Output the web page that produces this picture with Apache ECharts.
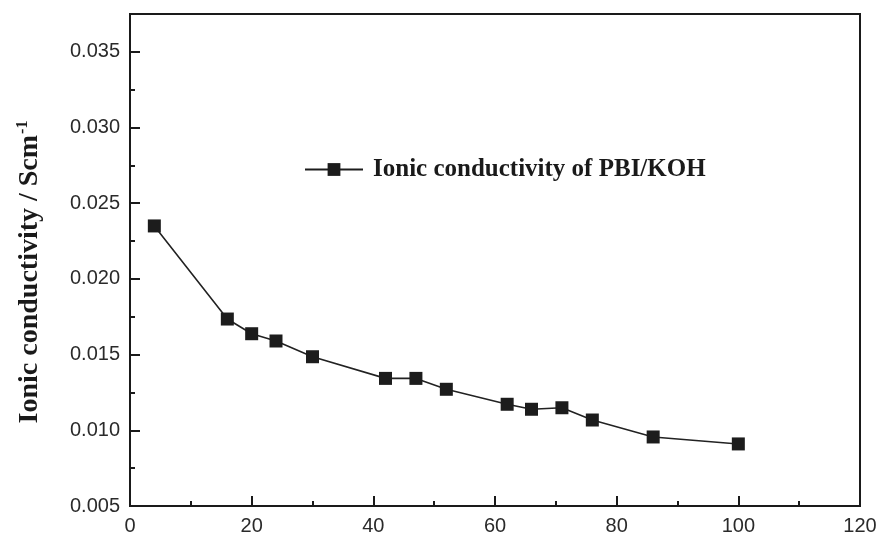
<!DOCTYPE html>
<html>
<head>
<meta charset="utf-8">
<script src="https://cdn.jsdelivr.net/npm/echarts@6/dist/echarts.min.js"></script>
<style>
  html, body { margin: 0; padding: 0; background: #fff; }
  #chart { width: 883px; height: 538px; }
</style>
</head>
<body>
<div id="chart"></div>
<script>
// Ionic conductivity of PBI/KOH membrane
const xValues = [4, 16, 20, 24, 30, 42, 47, 52, 62, 66, 71, 76, 86, 100];
const conductivity = [0.0235, 0.01735, 0.01638, 0.0159, 0.01486, 0.01343, 0.01343, 0.01271, 0.01172, 0.01139, 0.01149, 0.01068, 0.00956, 0.0091];
const seriesName = 'Ionic conductivity of PBI/KOH';

const points = xValues.map((x, i) => [x, conductivity[i]]);

const chart = echarts.init(document.getElementById('chart'));
const labelFont = { fontFamily: 'Liberation Sans, Arial, sans-serif', fontSize: 20, color: '#2a2a2a' };
const axisLine = { show: true, lineStyle: { color: '#1a1a1a', width: 2 } };
const serif = 'Liberation Serif, Times New Roman, serif';

chart.setOption({
  animation: false,
  backgroundColor: '#ffffff',
  grid: {
    left: 130, right: 23, top: 14, bottom: 32,
    show: true, borderColor: '#1a1a1a', borderWidth: 2
  },
  legend: {
    left: 299, top: 152,
    itemWidth: 58, itemHeight: 16,
    itemGap: 0,
    itemStyle: { borderWidth: 0, color: '#1c1c1c' },
    lineStyle: { width: 2, color: '#1c1c1c' },
    textStyle: {
      fontFamily: serif,
      fontWeight: 'bold', fontSize: 25, color: '#1a1a1a',
      padding: [0, 0, 0, 5]
    },
    data: [seriesName]
  },
  xAxis: {
    type: 'value', min: 0, max: 120, interval: 20,
    axisLine: axisLine,
    axisTick: { show: true, inside: true, length: 10, lineStyle: { color: '#1a1a1a', width: 2 } },
    minorTick: { show: true, splitNumber: 2, length: 5, lineStyle: { color: '#1a1a1a', width: 2 } },
    axisLabel: Object.assign({ margin: 10 }, labelFont),
    splitLine: { show: false }
  },
  yAxis: {
    type: 'value', min: 0.005, max: 0.0375, interval: 0.005,
    axisLine: axisLine,
    axisTick: { show: true, inside: true, length: 10, lineStyle: { color: '#1a1a1a', width: 2 } },
    minorTick: { show: true, splitNumber: 2, length: 5, lineStyle: { color: '#1a1a1a', width: 2 } },
    axisLabel: Object.assign({
      margin: 10, showMaxLabel: false,
      formatter: v => v.toFixed(3)
    }, labelFont),
    splitLine: { show: false },
    name: '{t|Ionic conductivity / Scm}{s|-1}',
    nameLocation: 'middle',
    nameRotate: 90,
    nameGap: 85,
    nameTextStyle: {
      padding: [0, 24, 0, 0],
      rich: {
        t: { fontFamily: serif, fontWeight: 'bold', fontSize: 28, color: '#1a1a1a' },
        s: { fontFamily: serif, fontWeight: 'bold', fontSize: 16, color: '#1a1a1a', verticalAlign: 'top', padding: [0, 0, 14, 1] }
      }
    }
  },
  series: [{
    name: seriesName,
    type: 'line',
    data: points,
    symbol: 'rect',
    symbolSize: 13,
    lineStyle: { color: '#222', width: 1.6 },
    itemStyle: { color: '#1c1c1c', borderWidth: 0 }
  }]
});
</script>
</body>
</html>
